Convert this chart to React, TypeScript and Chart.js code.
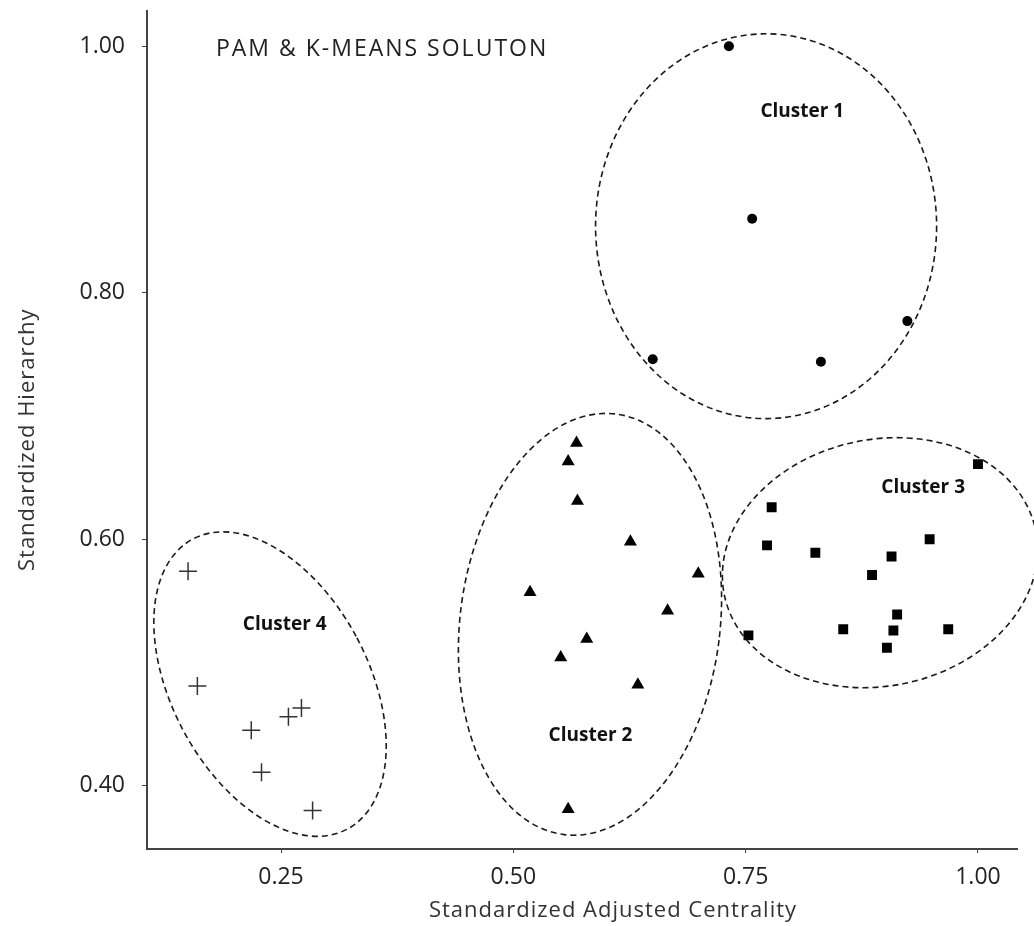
import React, { useEffect, useRef } from 'react';
import { Chart, registerables } from 'chart.js';

Chart.register(...registerables);

// ---- data ----
const cluster1X = [0.732, 0.757, 0.650, 0.831, 0.924];
const cluster1Y = [1.000, 0.860, 0.746, 0.744, 0.777];

const cluster2X = [0.568, 0.559, 0.569, 0.626, 0.699, 0.518, 0.666, 0.579, 0.551, 0.634, 0.559];
const cluster2Y = [0.678, 0.663, 0.631, 0.598, 0.572, 0.557, 0.542, 0.519, 0.504, 0.482, 0.381];

const cluster3X = [1.000, 0.778, 0.773, 0.825, 0.948, 0.907, 0.886, 0.913, 0.855, 0.909, 0.968, 0.902, 0.753];
const cluster3Y = [0.661, 0.626, 0.595, 0.589, 0.600, 0.586, 0.571, 0.539, 0.527, 0.526, 0.527, 0.512, 0.522];

const cluster4X = [0.150, 0.160, 0.218, 0.258, 0.272, 0.229, 0.284];
const cluster4Y = [0.574, 0.481, 0.445, 0.456, 0.463, 0.411, 0.380];

const clusterLabels = ['Cluster 1', 'Cluster 2', 'Cluster 3', 'Cluster 4'];
const labelX = [0.811, 0.583, 0.941, 0.254];
const labelY = [0.947, 0.441, 0.642, 0.531];

// ellipse outlines around clusters (data units, rotation in degrees)
const ellipseCX = [0.772, 0.5825, 0.8946, 0.2382];
const ellipseCY = [0.854, 0.531, 0.581, 0.4825];
const ellipseRX = [0.1835, 0.1399, 0.1711, 0.1059];
const ellipseRY = [0.1561, 0.1719, 0.1000, 0.1333];
const ellipseRot = [0, 7, -12, -28];

const xTicks = [0.25, 0.5, 0.75, 1.0];
const yTicks = [0.4, 0.6, 0.8, 1.0];

const chartTitle = 'PAM & K-MEANS SOLUTON';
const titleX = 0.180;
const titleY = 0.997;
const xAxisTitle = 'Standardized Adjusted Centrality';
const yAxisTitle = 'Standardized Hierarchy';

const FONT = '"Open Sans", "DejaVu Sans", sans-serif';

const toPts = (xs: number[], ys: number[]) => xs.map((x, i) => ({ x, y: ys[i] }));

const overlayPlugin = {
  id: 'overlay',
  afterDatasetsDraw(chart: any) {
    const { ctx, chartArea, scales } = chart;
    const xs = scales.x;
    const ys = scales.y;
    const pxPerX = Math.abs(xs.getPixelForValue(1) - xs.getPixelForValue(0));
    const pxPerY = Math.abs(ys.getPixelForValue(1) - ys.getPixelForValue(0));
    ctx.save();
    // ellipses
    ctx.strokeStyle = '#1a1a1a';
    ctx.lineWidth = 1.6;
    ctx.setLineDash([6, 4]);
    for (let i = 0; i < ellipseCX.length; i++) {
      ctx.beginPath();
      ctx.ellipse(
        xs.getPixelForValue(ellipseCX[i]),
        ys.getPixelForValue(ellipseCY[i]),
        ellipseRX[i] * pxPerX,
        ellipseRY[i] * pxPerY,
        (ellipseRot[i] * Math.PI) / 180,
        0,
        Math.PI * 2
      );
      ctx.stroke();
    }
    ctx.setLineDash([]);
    // cluster labels
    ctx.fillStyle = '#111';
    ctx.font = `bold 19px ${FONT}`;
    ctx.textAlign = 'center';
    ctx.textBaseline = 'middle';
    for (let i = 0; i < clusterLabels.length; i++) {
      ctx.fillText(clusterLabels[i], xs.getPixelForValue(labelX[i]), ys.getPixelForValue(labelY[i]));
    }
    // chart title inside plot
    ctx.font = `23px ${FONT}`;
    (ctx as any).letterSpacing = '2px';
    ctx.textAlign = 'left';
    ctx.fillStyle = '#222';
    ctx.fillText(chartTitle, xs.getPixelForValue(titleX), ys.getPixelForValue(titleY));
    // axis titles
    ctx.font = `22px ${FONT}`;
    (ctx as any).letterSpacing = '1px';
    ctx.fillStyle = '#333';
    ctx.textAlign = 'center';
    ctx.fillText(xAxisTitle, (chartArea.left + chartArea.right) / 2 + 31, chartArea.bottom + 62);
    ctx.translate(28, (chartArea.top + chartArea.bottom) / 2 + 10);
    ctx.rotate(-Math.PI / 2);
    ctx.fillText(yAxisTitle, 0, 0);
    (ctx as any).letterSpacing = '0px';
    ctx.restore();
  },
};

const zeroPadding = (s: any) => {
  s.paddingTop = 0;
  s.paddingBottom = 0;
  s.paddingLeft = 0;
  s.paddingRight = 0;
};

export default function App() {
  const ref = useRef<HTMLCanvasElement>(null);
  useEffect(() => {
    document.body.style.margin = '0';
    const canvas = ref.current!;
    const chart = new Chart(canvas, {
      type: 'scatter',
      data: {
        datasets: [
          {
            label: 'Cluster 1',
            data: toPts(cluster1X, cluster1Y),
            pointStyle: 'circle',
            pointRadius: 5,
            backgroundColor: '#000',
            borderColor: '#000',
            borderWidth: 0,
          },
          {
            label: 'Cluster 2',
            data: toPts(cluster2X, cluster2Y),
            pointStyle: 'triangle',
            pointRadius: 7.5,
            backgroundColor: '#000',
            borderColor: '#000',
            borderWidth: 0,
          },
          {
            label: 'Cluster 3',
            data: toPts(cluster3X, cluster3Y),
            pointStyle: 'rect',
            pointRadius: 7,
            backgroundColor: '#000',
            borderColor: '#000',
            borderWidth: 0,
          },
          {
            label: 'Cluster 4',
            data: toPts(cluster4X, cluster4Y),
            pointStyle: 'cross',
            pointRadius: 9,
            backgroundColor: '#333',
            borderColor: '#333',
            borderWidth: 1.5,
          },
        ],
      },
      options: {
        responsive: false,
        animation: false,
        layout: { padding: { top: 10, right: 17, left: 0, bottom: 0 } },
        plugins: { legend: { display: false }, tooltip: { enabled: false }, title: { display: false } },
        scales: {
          x: {
            type: 'linear',
            min: 0.1058,
            max: 1.042,
            afterFit: (s: any) => {
              s.height = 77;
              zeroPadding(s);
            },
            afterBuildTicks: (s: any) => {
              s.ticks = xTicks.map((v) => ({ value: v }));
            },
            border: { display: true, color: '#444', width: 2 },
            grid: { display: true, drawOnChartArea: false, drawTicks: true, tickLength: 4, color: '#444' },
            ticks: {
              color: '#222',
              font: { family: FONT, size: 23 },
              padding: 11,
              callback: (v: any) => Number(v).toFixed(2),
            },
          },
          y: {
            type: 'linear',
            min: 0.3487,
            max: 1.029,
            afterFit: (s: any) => {
              s.width = 147;
              zeroPadding(s);
            },
            afterBuildTicks: (s: any) => {
              s.ticks = yTicks.map((v) => ({ value: v }));
            },
            border: { display: true, color: '#444', width: 2 },
            grid: { display: true, drawOnChartArea: false, drawTicks: true, tickLength: 5, color: '#444' },
            ticks: {
              color: '#222',
              font: { family: FONT, size: 23 },
              padding: 17,
              callback: (v: any) => Number(v).toFixed(2),
            },
          },
        },
      },
      plugins: [overlayPlugin],
    });
    return () => chart.destroy();
  }, []);
  return (
    <div style={{ width: 1034, height: 926, background: '#fff' }}>
      <canvas ref={ref} width={1034} height={926} style={{ display: 'block' }} />
    </div>
  );
}
